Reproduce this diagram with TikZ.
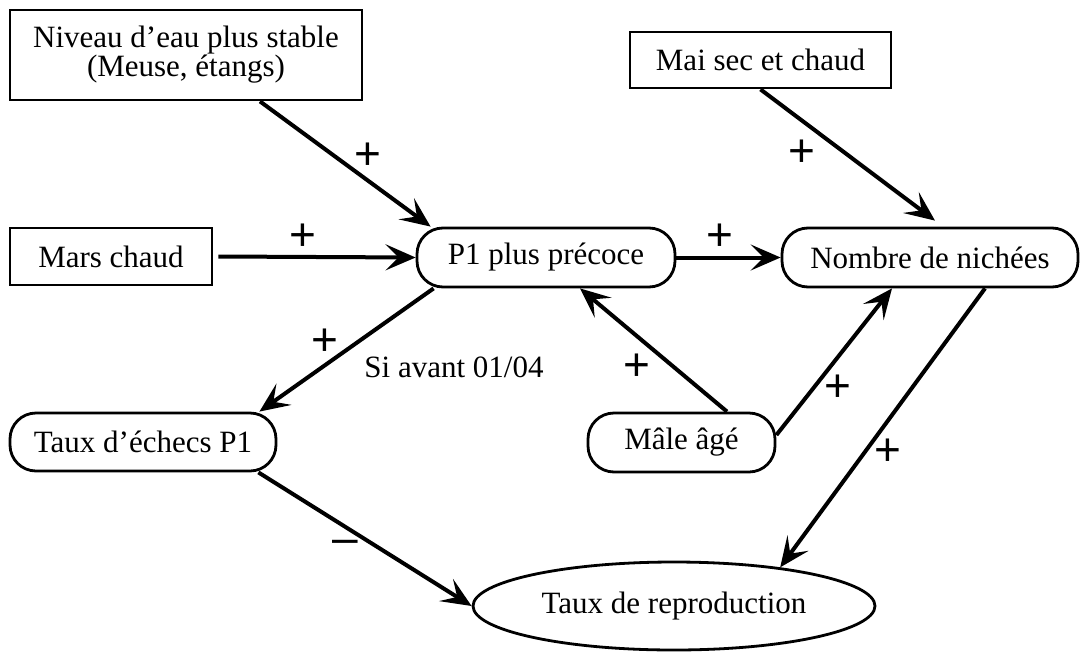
\documentclass[tikz,border=0pt]{standalone}
\usepackage{fontspec}
\setmainfont{Liberation Serif}
\newfontfamily\signfont{Liberation Sans}
\usetikzlibrary{arrows.meta,shapes.geometric}

\begin{document}
\begin{tikzpicture}[%
      x=0.5pt, y=-0.5pt,
      font=\fontsize{15.5}{14.5}\selectfont,
      box/.style={draw, line width=1.4pt, inner sep=0pt, align=center},
      pill/.style={box, rounded corners=13pt},
      oval/.style={draw, line width=1.4pt, ellipse, inner sep=0pt},
      sign/.style={font=\signfont\fontsize{23}{23}\selectfont, inner sep=0pt},
      link/.style={line width=2pt, -{Stealth[length=15pt,width=13pt,inset=6.5pt]}},
      ]
      \useasboundingbox (0,0) rectangle (1080,653);

      % causes
      \node [box, minimum width=176pt, minimum height=45pt] (niveau) at (186,55) {Niveau d’eau plus stable\\(Meuse, étangs)};
      \node [box, minimum width=101pt, minimum height=28.5pt] (mars) at (111,256.5) {Mars chaud};
      \node [box, minimum width=130.5pt, minimum height=28pt] (mai) at (760.5,60) {Mai sec et chaud};

      % effects
      \node [pill, minimum width=129pt, minimum height=29.5pt] (p1) at (546,257.5) {P1 plus précoce};
      \node [pill, minimum width=148pt, minimum height=29.5pt] (nombre) at (930,257.5) {Nombre de nichées};
      \node [pill, minimum width=133pt, minimum height=29pt] (echecs) at (143,442) {Taux d’échecs P1};
      \node [pill, minimum width=93.5pt, minimum height=29.5pt] (male) at (681.5,442.5) {Mâle âgé};
      \node [oval, minimum width=201pt, minimum height=44pt] (repro) at (674,606) {Taux de reproduction};

      \draw [link] ([xshift=37pt]niveau.south) -- ([xshift=7.5pt]p1.north west);
      \draw [link] ([xshift=2.5pt]mars.east) -- (p1.west);
      \draw [link] (mai.south) -- ([shift={(2.5pt,3pt)}]nombre.north);
      \draw [link] (p1.east) -- (nombre.west);
      \draw [link] ([xshift=9pt]p1.south west) -- ([xshift=-9pt]echecs.north east);
      \draw [link] ([xshift=-9.5pt]echecs.south east) -- (repro.west);
      \draw [link] ([xshift=22.75pt]male.north) -- ([xshift=17pt]p1.south);
      \draw [link] ([yshift=3.75pt]male.east) -- ([xshift=-19pt]nombre.south);
      \draw [link] ([xshift=27.5pt]nombre.south) -- (repro.20);

      \node (siavant) at (454,367) {Si avant 01/04};

      \node [sign] (s1) at (368,156) {+};
      \node [sign] (s2) at (303,237) {+};
      \node [sign] (s3) at (802,153) {+};
      \node [sign] (s4) at (720,237) {+};
      \node [sign] (s5) at (325,342) {+};
      \node [sign] (s6) at (637,367) {+};
      \node [sign] (s7) at (838,388) {+};
      \node [sign] (s8) at (888,452) {+};
      \node [sign] (s9) at (345,547) {–};
      \end{tikzpicture}
\end{document}
